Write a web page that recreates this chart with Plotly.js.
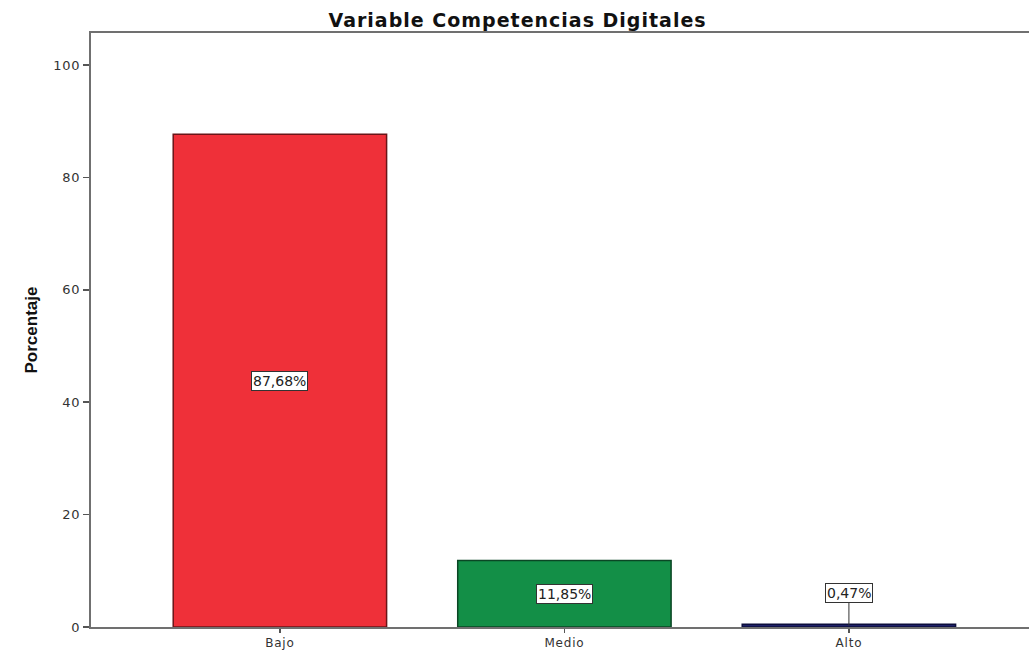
<!DOCTYPE html>
<html>
<head>
<meta charset="utf-8">
<script src="https://cdn.plot.ly/plotly-3.0.1.min.js"></script>
<style>
html,body{margin:0;padding:0;background:#fff;}
#chart{width:1032px;height:652px;}
#chart .gtitle{letter-spacing:1px;}
#chart .xtick text, #chart .ytick text{letter-spacing:0.8px;}
</style>
</head>
<body>
<div id="chart"></div>
<script>
// Data
const categories = ["Bajo", "Medio", "Alto"];
const percentages = [87.68, 11.85, 0.47];
const labels = ["87,68%", "11,85%", "0,47%"];
const barColors = ["#ef3039", "#138f47", "#1d2068"];
const barEdges = ["#6a1518", "#0a4624", "#0c0e3c"];
const yTicks = [0, 20, 40, 60, 80, 100];

const trace = {
  type: "bar",
  x: categories,
  y: percentages,
  width: 0.75,
  marker: {
    color: barColors,
    line: {color: barEdges, width: 1.5}
  },
  hoverinfo: "none"
};

const annotations = categories.map((c, i) => {
  const inside = percentages[i] > 5;
  return {
    x: c,
    y: percentages[i] / 2,
    xref: "x",
    yref: "y",
    text: labels[i],
    showarrow: !inside,
    arrowhead: 0,
    arrowwidth: 1,
    arrowcolor: "#333",
    ax: 0,
    ay: inside ? 0 : -33,
    font: {family: "DejaVu Sans, Arial, sans-serif", size: 14, color: "#222"},
    bgcolor: "#ffffff",
    bordercolor: "#333",
    borderwidth: 1,
    borderpad: 1
  };
});

const layout = {
  width: 1032,
  height: 652,
  paper_bgcolor: "#ffffff",
  plot_bgcolor: "#ffffff",
  margin: {l: 91, r: 3, t: 33, b: 25},
  showlegend: false,
  title: {
    text: "<b>Variable Competencias Digitales</b>",
    x: 0.5015,
    xanchor: "center",
    y: 1 - 20 / 652,
    yanchor: "middle",
    font: {family: "DejaVu Sans, Arial, sans-serif", size: 19, color: "#111"}
  },
  xaxis: {
    type: "category",
    range: [-0.664, 2.633],
    showgrid: false,
    zeroline: false,
    showline: true,
    linecolor: "#707070",
    linewidth: 2,
    mirror: true,
    ticks: "outside",
    ticklen: 4,
    tickwidth: 1.5,
    tickcolor: "#555",
    tickfont: {family: "DejaVu Sans, Arial, sans-serif", size: 12, color: "#333"},
    fixedrange: true
  },
  yaxis: {
    range: [0, 105.7],
    tickvals: yTicks,
    ticktext: yTicks.map(String),
    showgrid: false,
    zeroline: false,
    showline: true,
    linecolor: "#707070",
    linewidth: 2,
    ticks: "outside",
    ticklen: 6,
    tickwidth: 1.5,
    tickcolor: "#555",
    tickfont: {family: "DejaVu Sans, Arial, sans-serif", size: 13, color: "#333"},
    title: {
      text: "<b>Porcentaje</b>",
      standoff: 14,
      font: {family: "Liberation Sans Narrow, Arial Narrow, Liberation Sans, sans-serif", size: 17, color: "#111"}
    },
    fixedrange: true
  },
  annotations: annotations
};

Plotly.newPlot("chart", [trace], layout, {displayModeBar: false, staticPlot: true});
</script>
</body>
</html>
